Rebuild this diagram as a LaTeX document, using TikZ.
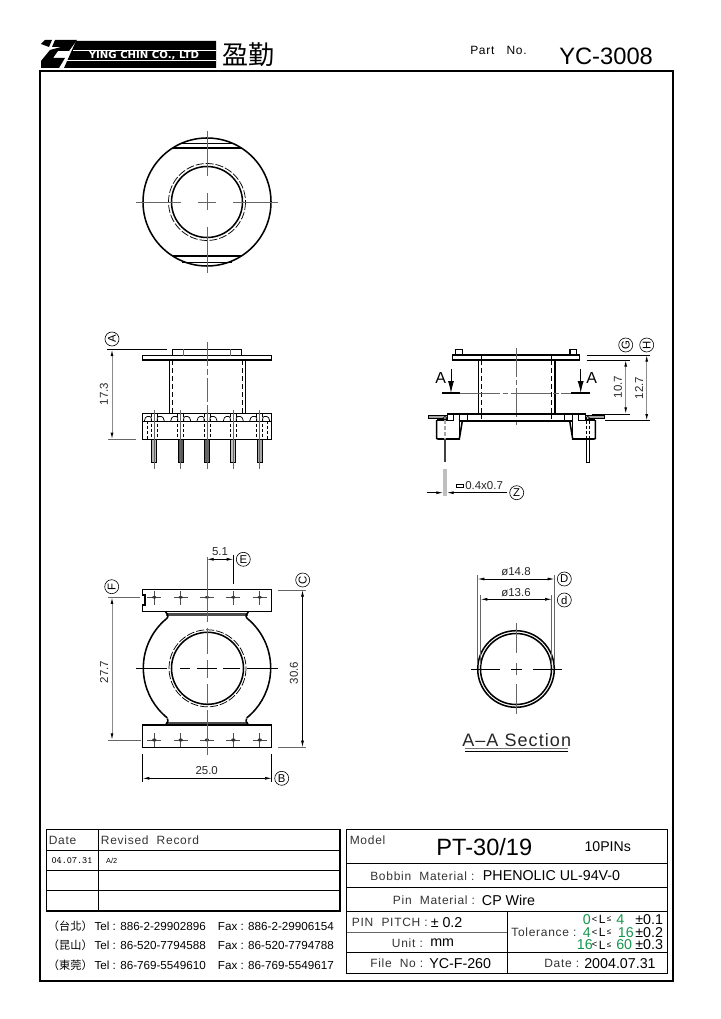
\documentclass[tikz,border=0pt]{standalone}
\usepackage{fontspec}
\setmainfont{Liberation Sans}
\newfontfamily\cjkfont{Noto Sans CJK TC}
\newfontfamily\isofont[LetterSpace=6]{Liberation Sans}
\newfontfamily\logofont{DejaVu Sans}
\newcommand{\fsz}[1]{\fontsize{#1}{#1}\selectfont}
\usetikzlibrary{arrows.meta}
\definecolor{tolgreen}{RGB}{20,150,75}
\tikzset{
	heavy/.style={line width=1.15pt,black},
	thinline/.style={line width=0.55pt,black},
	axis/.style={line width=0.6pt,black!60},
	hid/.style={line width=0.6pt,black,dash pattern=on 4pt off 2pt},
	dimline/.style={line width=0.5pt,black,{Latex[length=5pt,width=2.2pt]}-{Latex[length=5pt,width=2.2pt]}},
	dimgray/.style={line width=0.7pt,black!45,{Latex[length=5pt,width=2.2pt,black]}-{Latex[length=5pt,width=2.2pt,black]}},
	cutarrow/.style={line width=0.6pt,black,-{Latex[length=9pt,width=4.5pt]}},
	tag/.style={draw,circle,line width=0.45pt,minimum size=10.5pt,inner sep=0pt,font=\fsz{8.5}},
	dimtext/.style={inner sep=0pt,font=\fsz{8.6},text=black!85},
	label/.style={inner sep=0pt,anchor=west,font=\isofont\fsz{9},text=black!80},
	value/.style={inner sep=0pt,anchor=west,font=\fsz{10.7}},
	phone/.style={inner sep=0pt,anchor=west,font=\fsz{8.75}}
}
\begin{document}
\begin{tikzpicture}[x=0.75pt,y=-0.75pt]
	\useasboundingbox (0,0) rectangle (720,1019);
	% header
	\fill[black] (76,41)--(216,41)--(216,68)--(64,68)--cycle;
	\draw[white,line width=0.6pt] (73,50)--(216,50);
	\draw[white,line width=0.6pt] (67,60)--(216,60);
	\node[inner sep=0pt,text=white,font=\logofont\fsz{7.6}\bfseries] (company) at (144,55) {YING CHIN CO., LTD};
	\fill[black] (41,44)--(45,40)--(52,40)--(49,47)--cycle;
	\fill[black] (55,40)--(77,40)--(69,51)--(58,51)--(53,58)--(65,58)--(59,68)--(41,68)--(41,61)--(50,50)--(61,47)--(52,47)--cycle;
	\node[inner sep=0pt,font=\cjkfont\fsz{19.5}] (brand) at (248,55) {盈勤};
	\node[inner sep=0pt,anchor=west,font=\isofont\fsz{9}] (partlabel) at (470,50) {Part~~~No.};
	\node[inner sep=0pt,anchor=west,font=\fsz{17.8}] (partno) at (559,56) {YC-3008};
	% frame
	\draw[line width=1.5pt] (39.5,71) rectangle (673,981);
	
	% top view
	\draw[heavy] (207,202) circle [radius=64];
	\draw[heavy] (207,202) circle [radius=35.5];
	\draw[thinline,dash pattern=on 6pt off 1.5pt] (207,202) circle [radius=38.5];
	\draw[heavy] (172.6,148)--(241.4,148);
	\draw[heavy] (172.6,256)--(241.4,256);
	\draw[thinline] (182,143)--(232,143);
	\draw[thinline] (182,262)--(232,262);
	\draw[axis] (207,131)--(207,176);
	\draw[axis] (207,193)--(207,210);
	\draw[axis] (207,227)--(207,273);
	\draw[axis] (136,202)--(181,202);
	\draw[axis] (198,202)--(216,202);
	\draw[axis] (233,202)--(278,202);
	
	% front view
	\draw[heavy] (142.7,355.7) rectangle (271.7,360);
	\draw[heavy] (172.7,355.7)--(172.7,349.5)--(241.7,349.5)--(241.7,355.7);
	\draw[axis] (183,349.5)--(183,355.7);
	\draw[axis] (230.7,349.5)--(230.7,355.7);
	\draw[heavy] (169.3,360)--(169.3,413.5);
	\draw[heavy] (245.3,360)--(245.3,413.5);
	\draw[hid] (172,360)--(172,413.5);
	\draw[hid] (242.7,360)--(242.7,413.5);
	\draw[axis,dash pattern=on 18pt off 2pt on 5pt off 2pt] (207,342)--(207,468);
	\draw[heavy] (142.7,413.5) rectangle (271.7,439.3);
	\draw[thinline] (142.7,421)--(271.7,421);
	\foreach \px/\ps in {154.3/30,180.7/65,207/60,233.3/25,259.7/35}{
		\draw[thinline,rounded corners=1pt] (\px-10,421)--(\px-8.5,416.5)--(\px-3,416.5)--(\px-3,421);
		\draw[thinline,rounded corners=1pt] (\px+3,421)--(\px+3,416.5)--(\px+8.5,416.5)--(\px+10,421);
		\draw[thinline,dash pattern=on 2.5pt off 1.2pt] (\px-3,414)--(\px-3,439);
		\draw[thinline,dash pattern=on 2.5pt off 1.2pt] (\px+3,414)--(\px+3,439);
		\fill[black!\ps] (\px-2.5,439.3) rectangle (\px+2.5,462);
		\draw[thinline] (\px-2.5,439.3) rectangle (\px+2.5,462);
		\draw[axis] (\px,410)--(\px,469);
	}
	\draw[thinline,dash pattern=on 2.5pt off 1.2pt] (147.5,421)--(147.5,439);
	\draw[thinline,dash pattern=on 2.5pt off 1.2pt] (266.9,421)--(266.9,439);
	\draw[thinline] (107,349.5)--(167,349.5);
	\draw[axis] (108,439.3)--(136,439.3);
	\draw[dimgray] (112,349.5)--(112,439.3);
	\node[dimtext,rotate=90] (heighttext) at (104,394) {17.3};
	\node[tag,rotate=90] (tagA) at (112,339) {A};
	
	% side view
	\draw[heavy] (452.3,355) rectangle (579.3,360);
	\draw[line width=0.8pt] (455.5,355)--(455.5,349.5)--(462.3,349.5)--(462.3,355);
	\draw[line width=0.8pt] (570,355)--(570,349.5)--(576.7,349.5)--(576.7,355);
	\draw[thinline] (481,355)--(481,360);
	\draw[thinline] (551.7,355)--(551.7,360);
	\draw[heavy] (478.3,360)--(478.3,414);
	\draw[heavy] (555,360)--(555,414);
	\draw[hid] (481,360)--(481,414);
	\draw[hid] (551.7,360)--(551.7,414);
	\draw[axis,dash pattern=on 22pt off 2pt on 4pt off 2pt] (516,348)--(516,428);
	\draw[axis,dash pattern=on 30pt off 2pt on 4pt off 2pt] (460,393.3)--(571,393.3);
	\draw[line width=1.3pt] (441.7,393.3)--(460,393.3);
	\draw[line width=1.3pt] (571,393.3)--(590,393.3);
	\draw[cutarrow] (451,369)--(451,393);
	\draw[cutarrow] (580.7,369)--(580.7,393);
	\node[inner sep=0pt,font=\fsz{12}] (cutleft) at (440.7,377.7) {A};
	\node[inner sep=0pt,font=\fsz{12}] (cutright) at (591.7,377.7) {A};
	\draw[heavy] (447.3,414)--(585.7,414);
	\draw[heavy] (459.3,421)--(572.7,421);
	\draw[thinline] (467.7,414)--(467.7,421);
	\draw[thinline] (564.3,414)--(564.3,421);
	\draw[hid] (481,414)--(481,421);
	\draw[hid] (551.7,414)--(551.7,421);
	\draw[heavy] (436.7,420)--(436.7,438.5)--(438,439)--(459.3,439)--(462.3,421);
	\draw[heavy] (595.3,420)--(595.3,438.5)--(594,439)--(572.7,439)--(569.7,421);
	\draw[heavy] (447.3,414)--(447.3,420)--(436.7,420);
	\draw[heavy] (585.7,414)--(585.7,420)--(595.3,420);
	\draw[heavy] (459.3,414)--(459.3,439);
	\draw[heavy] (572.7,414)--(572.7,439);
	\draw[thinline] (453.5,414)--(453.5,420)--(447.3,420);
	\draw[thinline] (578.5,414)--(578.5,420)--(585.7,420);
	\draw[thinline,fill=black!35] (428.3,415.7) rectangle (447.3,418.5);
	\draw[thinline,fill=black!35] (585.7,415.7) rectangle (604.7,418.5);
	\draw[thinline,fill=white] (445,418) circle [radius=1.6];
	\draw[thinline,fill=white] (587.7,418) circle [radius=1.6];
	\draw[black!35,line width=1.9pt,dash pattern=on 3pt off 1.5pt] (445,420)--(445,439);
	\draw[thinline,dash pattern=on 2.5pt off 1.2pt] (586,421)--(586,439);
	\draw[thinline,dash pattern=on 2.5pt off 1.2pt] (589.3,421)--(589.3,439);
	\draw[line width=2.2pt,black!75] (445,439)--(445,462);
	\draw[thinline] (586,439)--(586,462)--(589.3,462)--(589.3,439);
	\draw[line width=3pt,black!25] (445,469)--(445,496);
	\draw[thinline,-{Latex[length=5pt,width=2.2pt]}] (426.7,492.7)--(443,492.7);
	\draw[thinline,-{Latex[length=5pt,width=2.2pt]}] (506.7,492.7)--(447,492.7);
	\draw[thinline] (456,484) rectangle (463.3,487.3);
	\node[dimtext,anchor=west] (wiretext) at (465,486) {0.4x0.7};
	\node[tag] (tagZ) at (516.7,492.7) {Z};
	\draw[thinline] (586.7,355)--(650,355);
	\draw[thinline] (586.7,360)--(630,360);
	\draw[thinline] (591.7,414)--(630,414);
	\draw[thinline] (605,420.7)--(650,420.7);
	\draw[dimgray] (625.7,360)--(625.7,414);
	\draw[dimgray] (646.7,355)--(646.7,420.7);
	\node[dimtext,rotate=90] (innertext) at (618,387) {10.7};
	\node[dimtext,rotate=90] (outertext) at (639,388) {12.7};
	\node[tag,rotate=90] (tagG) at (625.7,345) {G};
	\node[tag,rotate=90] (tagH) at (646.7,345) {H};
	
	% bottom view
	\draw[heavy] (142.7,589.3)--(271.7,589.3)--(271.7,611.7)--(142.7,611.7)--(142.7,605)--(145,605)--(145,595)--(142.7,595)--cycle;
	\draw[heavy] (142.7,725) rectangle (271.7,747.3);
	\draw[line width=1.6pt,black!70] (166,614.5)--(248,614.5);
	\draw[line width=1.6pt,black!70] (166,722.7)--(248,722.7);
	\draw[heavy] (165.5,611.7)..controls (167,614) and (169,615) .. (167.3,618);
	\draw[heavy] (248.5,611.7)..controls (247,614) and (245,615) .. (246.7,618);
	\draw[heavy] (165.5,725)..controls (167,722) and (169,722) .. (167.3,718.5);
	\draw[heavy] (248.5,725)..controls (247,722) and (245,722) .. (246.7,718.5);
	\draw[heavy] (167.3,618) arc [start angle=231.3,end angle=128.7,radius=64];
	\draw[heavy] (246.7,618) arc [start angle=-51.3,end angle=51.3,radius=64];
	\draw[heavy] (207.5,668.3) circle [radius=36];
	\draw[thinline,dash pattern=on 6pt off 1.5pt] (207.5,668.3) circle [radius=38.5];
	\foreach \px in {154.3,180.7,207,233.3,259.7}{
		\draw[line width=0.45pt,black!70] (\px-7,597.3)--(\px+7,597.3);
		\draw[line width=0.45pt,black!70] (\px,590.5)--(\px,604.5);
		\fill[black!80] (\px,597.3) ellipse [x radius=2.2,y radius=1.3];
		\draw[line width=0.45pt,black!70] (\px-7,740)--(\px+7,740);
		\draw[line width=0.45pt,black!70] (\px,733)--(\px,747);
		\fill[black!80] (\px,740) ellipse [x radius=2.2,y radius=1.6];
	}
	\draw[axis] (207,557)--(207,622);
	\draw[axis] (207,628)--(207,654);
	\draw[axis] (207,660)--(207,678);
	\draw[axis] (207,684)--(207,704);
	\draw[axis] (207,710)--(207,755);
	\draw[thinline] (136,668.3)--(167,668.3);
	\draw[thinline] (180,668.3)--(190,668.3);
	\draw[thinline] (197,668.3)--(217,668.3);
	\draw[thinline] (223,668.3)--(240,668.3);
	\draw[thinline] (247,668.3)--(278,668.3);
	\draw[thinline] (233.3,555)--(233.3,584);
	\draw[dimline] (207,559.3)--(233.3,559.3);
	\node[dimtext] (pitchtext) at (220,551.5) {5.1};
	\node[tag] (tagE) at (243.3,559.3) {E};
	\draw[axis] (108.3,597.3)--(140,597.3);
	\draw[axis] (108.3,740)--(141,740);
	\draw[dimgray] (112,597.3)--(112,740);
	\node[dimtext,rotate=90] (rowtext) at (104,672) {27.7};
	\node[tag,rotate=90] (tagF) at (111.7,586.7) {F};
	\draw[axis] (278,590)--(306,590);
	\draw[axis] (278,747.3)--(306,747.3);
	\draw[dimline] (302.5,590)--(302.5,747.3);
	\node[dimtext,rotate=90] (lengthtext) at (294,673) {30.6};
	\node[tag,rotate=90] (tagC) at (302.7,580) {C};
	\draw[thinline] (142.7,754)--(142.7,782);
	\draw[thinline] (271.7,754)--(271.7,782);
	\draw[dimline] (142.7,778.3)--(271.7,778.3);
	\node[dimtext] (widthtext) at (206.7,770.7) {25.0};
	\node[tag] (tagB) at (281.7,778.3) {B};
	
	% section
	\draw[heavy] (516,669) circle [radius=38.3];
	\draw[heavy] (516,669) circle [radius=35.5];
	\draw[axis] (516,623)--(516,653);
	\draw[axis] (516,663)--(516,675);
	\draw[axis] (516,684)--(516,714);
	\draw[thinline] (471,669)--(500,669);
	\draw[thinline] (511,669)--(522,669);
	\draw[thinline] (533,669)--(562,669);
	\draw[axis] (477.7,575)--(477.7,665);
	\draw[axis] (554.3,575)--(554.3,665);
	\draw[axis] (480.7,595)--(480.7,665);
	\draw[axis] (551.7,595)--(551.7,665);
	\draw[dimline] (477.7,579)--(554.3,579);
	\draw[dimline] (480.7,599.3)--(551.7,599.3);
	\node[dimtext] (outerdia) at (516,572) {ø14.8};
	\node[dimtext] (innerdia) at (516,592.5) {ø13.6};
	\node[tag] (tagD) at (564.3,579) {D};
	\node[tag] (tagd) at (564.3,600) {d};
	\node[inner sep=0pt,font=\isofont\fsz{13.5},text=black!85] (sectionname) at (516.7,740) {A–A Section};
	\draw[line width=0.7pt,black!55] (465,748)--(568,748);
	\draw[thinline] (465,751.5)--(568,751.5);
	
	% revision table
	\draw[line width=0.9pt] (46.7,829.3) rectangle (340,911);
	\draw[thinline] (46.7,850)--(340,850);
	\draw[thinline] (46.7,870)--(340,870);
	\draw[thinline] (46.7,890.7)--(340,890.7);
	\draw[thinline] (98.3,829.3)--(98.3,911);
	\node[label] (datehead) at (48.5,840) {Date};
	\node[label] (recordhead) at (100.7,840) {Revised~~Record};
	\node[inner sep=0pt,font=\fsz{7.2}\ttfamily] (revdate) at (72,860.5) {04.07.31};
	\node[inner sep=0pt,font=\fsz{5.5}] (revtext) at (111.7,860.5) {A/2};
	\foreach \py/\city/\teltxt/\faxtxt [count=\k] in {926.7/台北/886-2-29902896/886-2-29906154,945.3/昆山/86-520-7794588/86-520-7794788,965/東莞/86-769-5549610/86-769-5549617}{
		\node[inner sep=0pt,anchor=east,font=\cjkfont\fsz{8.4}] (city\k) at (93,\py) {（\city）};
		\node[phone] (tel\k) at (94.3,\py) {Tel : \teltxt};
		\node[phone] (fax\k) at (217.7,\py) {Fax : \faxtxt};
	}
	
	% title block
	\draw[line width=0.9pt] (346.7,829.3) rectangle (667.3,973.3);
	\draw[thinline] (346.7,863.3)--(667.3,863.3);
	\draw[thinline] (346.7,887.3)--(667.3,887.3);
	\draw[line width=0.7pt] (346.7,911.3)--(667.3,911.3);
	\draw[line width=0.9pt,black!60] (346.7,932.3)--(507.7,932.3);
	\draw[thinline] (346.7,952.7)--(667.3,952.7);
	\draw[thinline] (507.7,911.3)--(507.7,973.3);
	\node[label] (modellabel) at (349.5,840) {Model};
	\node[inner sep=0pt,font=\fsz{17.7}] (modelname) at (484.3,846.7) {PT-30/19};
	\node[inner sep=0pt,font=\fsz{10.6}] (pincount) at (607.7,846.7) {10PINs};
	\node[label] (bobbinlabel) at (370,876) {Bobbin~~Material :};
	\node[value] (bobbinvalue) at (482.7,876) {PHENOLIC UL-94V-0};
	\node[label] (pinlabel) at (392.7,900) {Pin~~Material :};
	\node[value] (pinvalue) at (481.7,900) {CP Wire};
	\node[label] (pitchlabel) at (351.7,922.7) {PIN~~PITCH :};
	\node[value] (pitchvalue) at (430.5,922.7) {± 0.2};
	\node[label] (unitlabel) at (391.7,943) {Unit :};
	\node[value] (unitvalue) at (430,943) {mm};
	\node[label] (filelabel) at (370,963.3) {File~~No :};
	\node[value] (filevalue) at (429,963.3) {YC-F-260};
	\node[label] (datelabel) at (544,963.3) {Date :};
	\node[value] (datevalue) at (584,963.3) {2004.07.31};
	\node[label] (tollabel) at (511,932.3) {Tolerance :};
	\foreach \py/\low/\lowx/\high/\highx/\err/\errx [count=\k] in {919.3/0/582.7/4/616/0.1/635,932.3/4/582.7/16/617.7/0.2/635,945/16/576.7/60/616/0.3/635}{
		\node[value,text=tolgreen] (tollow\k) at (\lowx,\py) {\low};
		\node[inner sep=0pt,anchor=west,font=\fsz{7}] (tolless\k) at (591.5,\py) {<};
		\node[inner sep=0pt,anchor=west,font=\fsz{9}] (tolvar\k) at (598.5,\py) {L};
		\node[inner sep=0pt,anchor=west,font=\fsz{6}] (tolleq\k) at (606.5,\py) {≤};
		\node[value,text=tolgreen] (tolhigh\k) at (\highx,\py) {\high};
		\node[value] (tolerr\k) at (\errx,\py) {±\err};
	}
\end{tikzpicture}
\end{document}
